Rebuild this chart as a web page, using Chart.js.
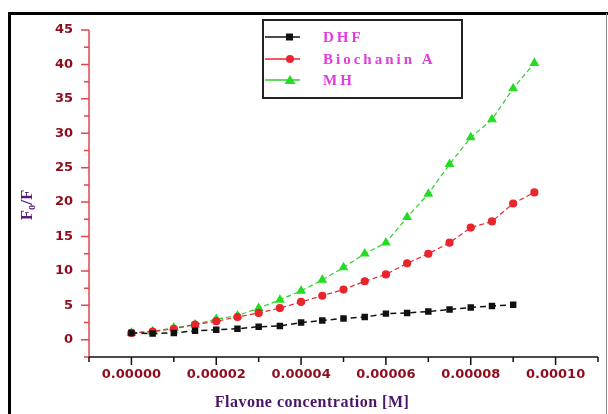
<!DOCTYPE html>
<html>
<head>
<meta charset="utf-8">
<script src="https://cdn.jsdelivr.net/npm/chart.js@4.4.1/dist/chart.umd.min.js"></script>
<style>
  html, body { margin: 0; padding: 0; background: #ffffff; }
  #wrap { width: 608px; height: 414px; }
</style>
</head>
<body>
<div id="wrap"><canvas id="quenchChart" width="608" height="414"></canvas></div>
<script>
// concentrations (M)
const concentrations = [0, 0.000005, 0.00001, 0.000015, 0.00002, 0.000025, 0.00003, 0.000035, 0.00004, 0.000045,
  0.00005, 0.000055, 0.00006, 0.000065, 0.00007, 0.000075, 0.00008, 0.000085, 0.00009, 0.000095]

// F0/F values
const dhf = [1.0, 0.9, 1.0, 1.3, 1.45, 1.6, 1.9, 2.0, 2.5, 2.8, 3.1, 3.3, 3.8, 3.9, 4.1, 4.4, 4.7, 4.9, 5.1]
const biochaninA = [1.0, 1.2, 1.6, 2.2, 2.7, 3.3, 3.9, 4.6, 5.5, 6.4, 7.3, 8.5, 9.5, 11.1, 12.5, 14.1, 16.3, 17.2, 19.8, 21.4]
const mh = [1.0, 1.2, 1.75, 2.2, 3.0, 3.5, 4.6, 5.8, 7.1, 8.7, 10.5, 12.5, 14.1, 17.8, 21.2, 25.5, 29.4, 32.0, 36.5, 40.2]

const seriesLabels = ['DHF', 'Biochanin A', 'MH']
const xTickLabels = ['0.00000', '0.00002', '0.00004', '0.00006', '0.00008', '0.00010']
const yTickLabels = ['0', '5', '10', '15', '20', '25', '30', '35', '40', '45']

const toPoints = (vals) => vals.map((v, i) => ({ x: concentrations[i], y: v }))

const labelFont = { family: 'DejaVu Sans', size: 13, weight: 'bold' }

// axis lines, minor/major ticks, titles, legend and frame
const decorPlugin = {
  id: 'decor',
  afterDraw(chart) {
    const ctx = chart.ctx
    const xs = chart.scales.x
    const ys = chart.scales.y
    const area = chart.chartArea
    ctx.save()

    // y axis
    ctx.strokeStyle = '#e0474c'
    ctx.lineWidth = 1.5
    ctx.beginPath()
    ctx.moveTo(area.left, area.top)
    ctx.lineTo(area.left, area.bottom)
    ys.ticks.forEach(t => {
      const py = ys.getPixelForValue(t.value)
      const major = Math.abs(Math.round(t.value / 5) * 5 - t.value) < 1e-6
      ctx.moveTo(area.left, py)
      ctx.lineTo(area.left - (major ? 8 : 5), py)
    })
    ctx.stroke()

    // x axis
    ctx.strokeStyle = '#111111'
    ctx.beginPath()
    ctx.moveTo(area.left, area.bottom)
    ctx.lineTo(area.right, area.bottom)
    xs.ticks.forEach(t => {
      const px = xs.getPixelForValue(t.value)
      const k = Math.round(t.value / 0.00001)
      const major = k % 2 === 0
      ctx.moveTo(px, area.bottom)
      ctx.lineTo(px, area.bottom + (major ? 8 : 5))
    })
    ctx.stroke()

    // axis titles
    ctx.fillStyle = '#4b1466'
    ctx.font = 'bold 16px "Liberation Serif"'
    ctx.textAlign = 'center'
    ctx.textBaseline = 'middle'
    ctx.letterSpacing = '0.5px'
    ctx.fillText('Flavone concentration [M]', 312, 403)
    ctx.letterSpacing = '0px'

    ctx.save()
    ctx.translate(28, 205)
    ctx.rotate(-Math.PI / 2)
    ctx.font = 'bold 17px "Liberation Serif"'
    ctx.fillStyle = '#5a1a80'
    ctx.fillText('F\u2080/F', 0, 0)
    ctx.restore()

    // legend
    const box = { x: 263, y: 20, w: 199, h: 78 }
    ctx.strokeStyle = '#222222'
    ctx.lineWidth = 2
    ctx.strokeRect(box.x, box.y, box.w, box.h)
    const rows = [37, 59, 80]
    chart.data.datasets.forEach((ds, i) => {
      const y = rows[i]
      ctx.strokeStyle = ds.borderColor
      ctx.lineWidth = 1.5
      ctx.beginPath()
      ctx.moveTo(265, y)
      ctx.lineTo(300, y)
      ctx.stroke()
      ctx.fillStyle = ds.pointBackgroundColor
      ctx.beginPath()
      if (ds.pointStyle === 'rect') {
        ctx.rect(286, y - 3.5, 7, 7)
      } else if (ds.pointStyle === 'circle') {
        ctx.arc(290, y, 4, 0, Math.PI * 2)
      } else {
        ctx.moveTo(290, y - 5)
        ctx.lineTo(295.5, y + 4)
        ctx.lineTo(284.5, y + 4)
        ctx.closePath()
      }
      ctx.fill()
      ctx.fillStyle = '#e03ce0'
      ctx.font = 'bold 15px "Liberation Serif"'
      ctx.textAlign = 'left'
      ctx.letterSpacing = '3px'
      ctx.fillText(ds.label, 323, y + 1)
      ctx.letterSpacing = '0px'
    })

    // outer frame
    ctx.strokeStyle = '#000000'
    ctx.lineWidth = 3
    ctx.beginPath()
    ctx.moveTo(9.5, 414)
    ctx.lineTo(9.5, 13.5)
    ctx.lineTo(608, 13.5)
    ctx.stroke()
    ctx.strokeStyle = '#888888'
    ctx.lineWidth = 1
    ctx.beginPath()
    ctx.moveTo(606.5, 13)
    ctx.lineTo(606.5, 414)
    ctx.stroke()

    ctx.restore()
  }
}

new Chart(document.getElementById('quenchChart'), {
  type: 'line',
  data: {
    datasets: [
      {
        label: seriesLabels[0],
        data: toPoints(dhf),
        borderColor: '#111111',
        backgroundColor: '#111111',
        pointBackgroundColor: '#111111',
        pointBorderColor: '#111111',
        pointStyle: 'rect',
        pointRadius: 3.5,
        borderWidth: 1.5,
        borderDash: [6, 4],
        tension: 0
      },
      {
        label: seriesLabels[1],
        data: toPoints(biochaninA),
        borderColor: '#e8252c',
        backgroundColor: '#e8252c',
        pointBackgroundColor: '#e8252c',
        pointBorderColor: '#e8252c',
        pointStyle: 'circle',
        pointRadius: 3.5,
        borderWidth: 1.2,
        borderDash: [5, 3],
        tension: 0
      },
      {
        label: seriesLabels[2],
        data: toPoints(mh),
        borderColor: '#2fd02f',
        backgroundColor: '#2fd02f',
        pointBackgroundColor: '#22dd22',
        pointBorderColor: '#22dd22',
        pointStyle: 'triangle',
        pointRadius: 4.5,
        borderWidth: 1.2,
        borderDash: [5, 3],
        tension: 0
      }
    ]
  },
  options: {
    responsive: false,
    animation: false,
    layout: { padding: { left: 0, right: 1, top: 30, bottom: 0 } },
    plugins: {
      legend: { display: false },
      tooltip: { enabled: false }
    },
    scales: {
      x: {
        type: 'linear',
        min: -0.00001,
        max: 0.00011,
        afterFit: (scale) => { scale.height = 57 },
        grid: { display: false, drawTicks: false },
        border: { display: false },
        ticks: {
          stepSize: 0.00001,
          autoSkip: false,
          maxRotation: 0,
          padding: 10,
          color: '#8e0c1c',
          font: labelFont,
          callback: function (value) {
            const k = Math.round(value / 0.00001)
            if (k < 0 || k % 2 !== 0) return ''
            return xTickLabels[k / 2] || ''
          }
        }
      },
      y: {
        min: -2.5,
        max: 45,
        afterFit: (scale) => { scale.width = 89 },
        grid: { display: false, drawTicks: false },
        border: { display: false },
        ticks: {
          stepSize: 2.5,
          autoSkip: false,
          padding: 16,
          color: '#8e0c1c',
          font: labelFont,
          callback: function (value) {
            const k = Math.round(value / 5)
            if (Math.abs(k * 5 - value) > 1e-6 || k < 0) return ''
            return yTickLabels[k] || ''
          }
        }
      }
    }
  },
  plugins: [decorPlugin]
})
</script>
</body>
</html>
